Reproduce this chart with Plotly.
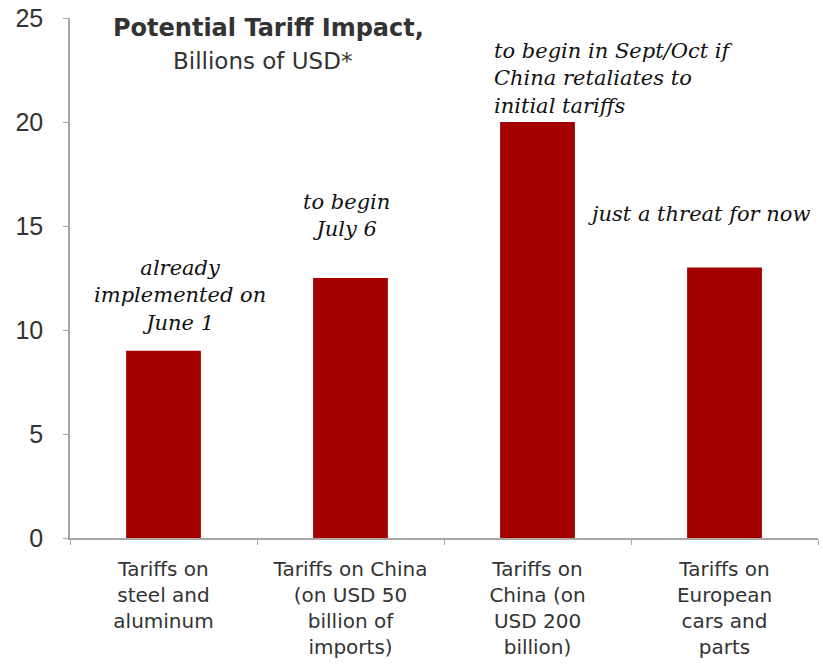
import plotly.graph_objects as go

categories = [
    "Tariffs on<br>steel and<br>aluminum",
    "Tariffs on China<br>(on USD 50<br>billion of<br>imports)",
    "Tariffs on<br>China (on<br>USD 200<br>billion)",
    "Tariffs on<br>European<br>cars and<br>parts",
]
values = [9, 12.5, 20, 13]
notes = [
    "already<br>implemented on<br>June 1",
    "to begin<br>July 6",
    "to begin in Sept/Oct if<br>China retaliates to<br>initial tariffs",
    "just a threat for now",
]
y_ticks = [0, 5, 10, 15, 20, 25]

BAR = "#A50000"
TXT = "#333333"
SANS = "DejaVu Sans"

fig = go.Figure(go.Bar(x=categories, y=values, marker_color=BAR, width=0.4,
                       marker_line_width=0, hoverinfo="skip"))

# annotations: (category index, x-anchor, xshift, yshift, align)
ann_cfg = [
    (0, "center", 16, 14, "center"),
    (1, "center", -4, 35, "center"),
    (2, "left", -46, 2, "left"),
    (3, "left", -139, 40, "left"),
]
for (i, xa, xs, ys, al) in ann_cfg:
    fig.add_annotation(x=categories[i], y=values[i], text="<i>" + notes[i] + "</i>",
                       showarrow=False, xanchor=xa, yanchor="bottom", xshift=xs,
                       yshift=ys, align=al,
                       font=dict(family="DejaVu Serif", size=21, color="#111111"))

fig.add_annotation(xref="paper", yref="paper", x=0.265, y=0.98, xanchor="center",
                   yanchor="middle", text="<b>Potential Tariff Impact,</b>",
                   showarrow=False, font=dict(family=SANS, size=24, color=TXT))
fig.add_annotation(xref="paper", yref="paper", x=0.257, y=0.917, xanchor="center",
                   yanchor="middle", text="Billions of USD*", showarrow=False,
                   font=dict(family=SANS, size=23, color=TXT))

fig.update_layout(
    width=823, height=667,
    margin=dict(l=70, r=5, t=18, b=129),
    paper_bgcolor="white", plot_bgcolor="white",
    showlegend=False,
    font=dict(family=SANS, color=TXT),
)
fig.update_xaxes(showline=True, linecolor="#A6A6A6", linewidth=1.5, ticks="outside",
                 tickson="boundaries", ticklen=5, tickcolor="#A6A6A6",
                 tickfont=dict(size=20, color=TXT), showgrid=False,
                 automargin=False, ticklabelstandoff=12, ticklabeloverflow="allow")
fig.update_yaxes(range=[0, 25], tickvals=y_ticks, showline=True, linecolor="#A6A6A6",
                 linewidth=1.5, ticks="outside", ticklen=5, tickcolor="#A6A6A6",
                 tickfont=dict(family="Liberation Sans", size=25, color=TXT),
                 showgrid=False, zeroline=False, automargin=False, ticklabelstandoff=15,
                 ticklabeloverflow="allow")

fig.write_html("out.html", config={"displayModeBar": False},
               post_script="document.body.style.margin='0';")
